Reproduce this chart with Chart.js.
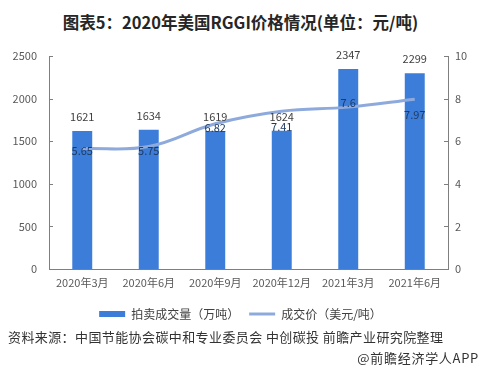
<!DOCTYPE html>
<html>
<head>
<meta charset="utf-8">
<script src="https://cdn.jsdelivr.net/npm/chart.js@4"></script>
<style>
  body { margin: 0; background: #fff; width: 481px; height: 371px; overflow: hidden; position: relative;
         font-family: "Noto Sans CJK SC", "Noto Sans", sans-serif; }
  #title { position: absolute; top: 10px; left: 0; width: 481px; text-align: center;
           font-size: 16.5px; font-weight: bold; color: #262626; }
  #wrap { position: absolute; top: 0; left: 0; width: 481px; height: 330px; }
  #source { position: absolute; top: 327px; left: 8px; font-size: 13px; color: #333; letter-spacing: 0.4px; white-space: nowrap; }
  #brand { position: absolute; top: 348px; right: 2px; font-size: 13px; color: #333; letter-spacing: 0.7px; white-space: nowrap; }
</style>
</head>
<body>
<div id="title">图表5：2020年美国RGGI价格情况(单位：元/吨)</div>
<div id="wrap"><canvas id="chart"></canvas></div>
<div id="source">资料来源：中国节能协会碳中和专业委员会 中创碳投 前瞻产业研究院整理</div>
<div id="brand">@前瞻经济学人APP</div>
<script>
const months = ['2020年3月', '2020年6月', '2020年9月', '2020年12月', '2021年3月', '2021年6月'];
const volume = [1621, 1634, 1619, 1624, 2347, 2299];
const price = [5.65, 5.75, 6.82, 7.41, 7.6, 7.97];
const volumeTicks = [0, 500, 1000, 1500, 2000, 2500];
const priceTicks = [0, 2, 4, 6, 8, 10];

const fontFamily = '"Noto Sans CJK SC", "Noto Sans", sans-serif';

// value labels + inward axis ticks
const labelPlugin = {
    id: 'valueLabels',
    afterDatasetsDraw(chart) {
        const ctx = chart.ctx;
        ctx.save();
        ctx.font = '11px ' + fontFamily;
        ctx.textAlign = 'center';
        ctx.textBaseline = 'middle';

        chart.getDatasetMeta(0).data.forEach((bar, i) => {
            ctx.fillStyle = '#404040';
            ctx.fillText(volume[i], bar.x, bar.y - 14);
        });

        // where Excel put each price label relative to its point
        const shift = [2, 4, 4, 16, -4, 16];
        chart.getDatasetMeta(1).data.forEach((pt, i) => {
            ctx.fillStyle = '#1f3b63';
            ctx.fillText(price[i], pt.x, pt.y + shift[i]);
        });

        ctx.strokeStyle = '#7f7f7f';
        ctx.lineWidth = 1;
        ['y', 'y1'].forEach(id => {
            const s = chart.scales[id];
            const x = id === 'y' ? s.right : s.left;
            const dir = id === 'y' ? 1 : -1;
            s.ticks.forEach(t => {
                const y = Math.round(s.getPixelForValue(t.value)) + 0.5;
                ctx.beginPath();
                ctx.moveTo(x, y);
                ctx.lineTo(x + dir * 4, y);
                ctx.stroke();
            });
        });
        ctx.restore();
    }
};

new Chart(document.getElementById('chart'), {
    type: 'bar',
    data: {
        labels: months,
        datasets: [{
            label: '拍卖成交量（万吨）',
            data: volume,
            backgroundColor: '#3c7dd9',
            barPercentage: 0.3,
            categoryPercentage: 1,
            pointStyle: 'rect',
            yAxisID: 'y',
            order: 2
        }, {
            type: 'line',
            label: '成交价（美元/吨）',
            data: price,
            borderColor: '#8eaadc',
            backgroundColor: '#8eaadc',
            borderWidth: 3,
            tension: 0.4,
            pointRadius: 0,
            pointStyle: 'line',
            yAxisID: 'y1',
            order: 1
        }]
    },
    options: {
        responsive: true,
        maintainAspectRatio: false,
        animation: false,
        layout: { padding: { top: 56, left: 0, right: 0, bottom: 0 } },
        plugins: {
            legend: {
                position: 'bottom',
                labels: {
                    usePointStyle: true,
                    boxHeight: 6,
                    pointStyleWidth: 26,
                    padding: 10,
                    color: '#404040',
                    font: { family: fontFamily, size: 12 },
                    sort: (a, b) => a.datasetIndex - b.datasetIndex
                }
            },
            tooltip: { enabled: false }
        },
        scales: {
            x: {
                grid: { display: false, drawTicks: false },
                border: { color: '#7f7f7f' },
                ticks: { color: '#595959', padding: 7, font: { family: fontFamily, size: 11 } },
                afterFit: s => { s.height = 29; }
            },
            y: {
                position: 'left',
                min: 0,
                max: 2500,
                afterBuildTicks: s => { s.ticks = volumeTicks.map(v => ({ value: v })); },
                grid: { display: false, drawTicks: false },
                border: { color: '#7f7f7f' },
                ticks: { color: '#595959', padding: 12, callback: v => String(v), font: { family: fontFamily, size: 11 } },
                afterFit: s => { s.width = 49; }
            },
            y1: {
                position: 'right',
                min: 0,
                max: 10,
                afterBuildTicks: s => { s.ticks = priceTicks.map(v => ({ value: v })); },
                grid: { display: false, drawTicks: false },
                border: { color: '#7f7f7f' },
                ticks: { color: '#595959', padding: 7, callback: v => String(v), font: { family: fontFamily, size: 11 } },
                afterFit: s => { s.width = 33; }
            }
        }
    },
    plugins: [labelPlugin]
});
</script>
</body>
</html>
